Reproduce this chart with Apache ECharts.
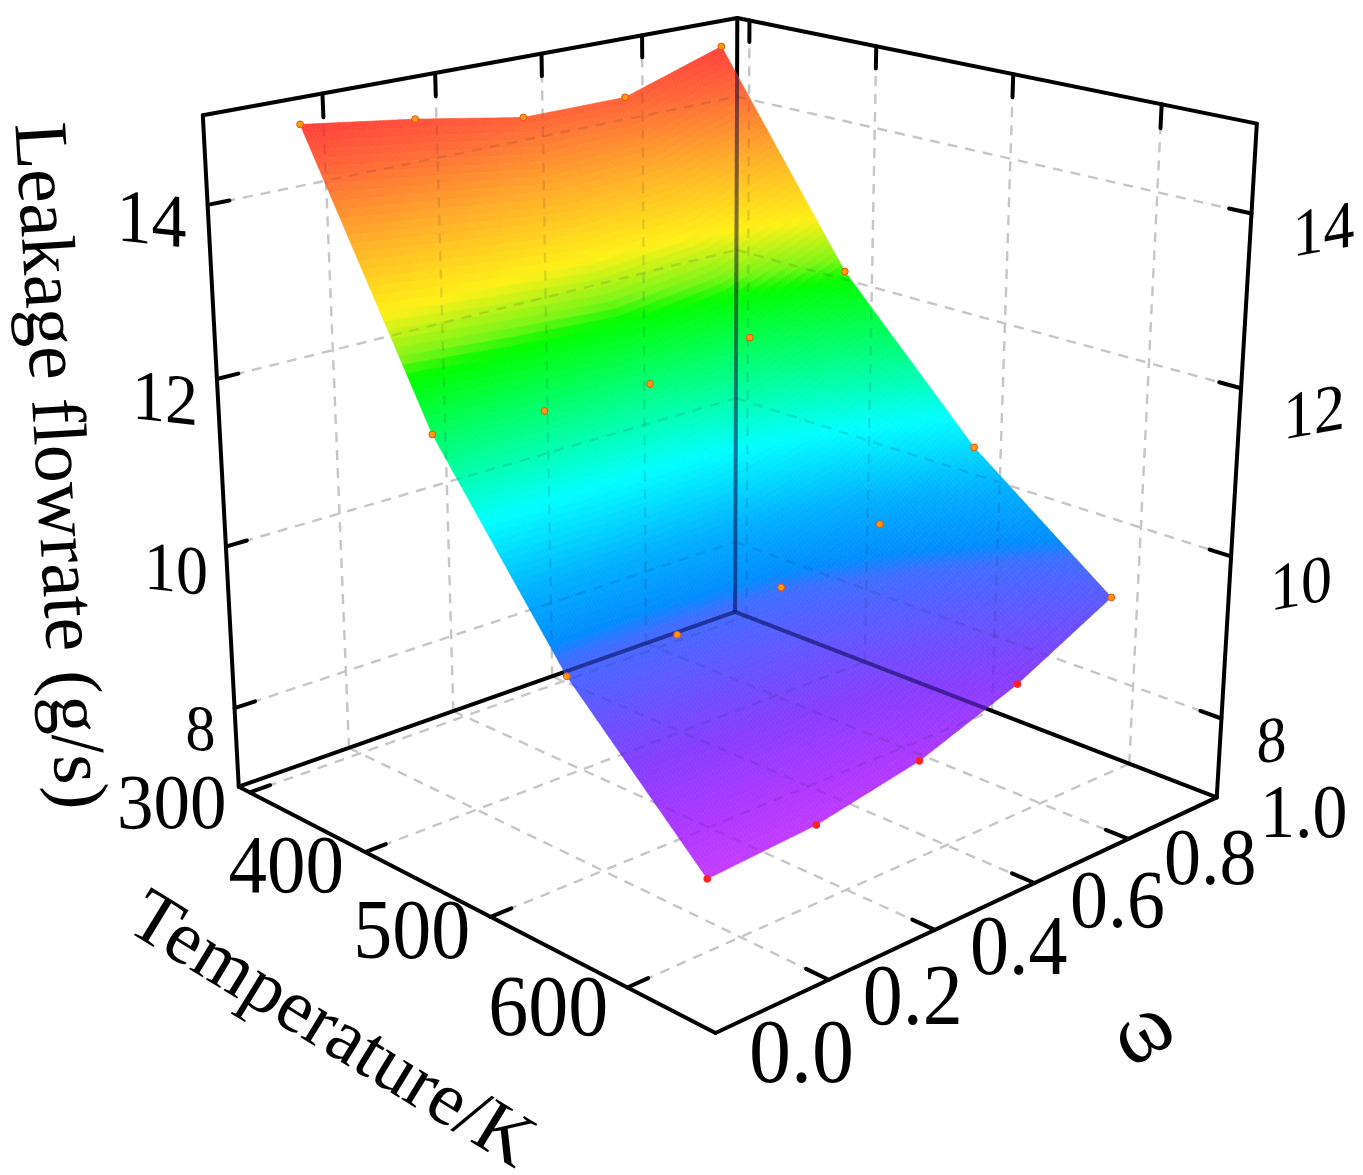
<!DOCTYPE html>
<html><head><meta charset="utf-8"><style>html,body{margin:0;background:#fff}#c{width:1363px;height:1175px}</style>
<script src="https://cdn.jsdelivr.net/npm/echarts@6/dist/echarts.min.js"></script></head><body><div id="c"></div>
<script>
const temperatures=[300,400,500,600];
const omegas=[0.14,0.34,0.54,0.74,0.94];
const flowT300=[14.76,14.57,14.34,14.34,14.74];
const flowT400=[11.67,11.58,11.55,11.78,12.29];
const flowT500=[9.47,9.50,9.63,9.99,10.56];
const flowT600=[7.85,7.94,8.19,8.64,9.26];
const flowRows=[flowT300,flowT400,flowT500,flowT600];
const tempTicks=[300,400,500,600], omegaTicks=[0,0.2,0.4,0.6,0.8,1], flowTicks=[14,12,10,8];
const Tmin=290,Tmax=660,Zmin=7,Zmax=15;
// camera calibration: box corners -> page position
const cam=[[0,0,0,239,787],[1,0,0,715,1033],[1,1,0,1217,797],[0,1,0,735,612],[0,0,1,203,115],[0,1,1,737,18],[1,1,1,1257,124]];
function fit(){const R=[];for(const [u,v,w,X,Y] of cam){R.push([u,v,w,1,0,0,0,0,-X*u,-X*v,-X*w,X]);R.push([0,0,0,0,u,v,w,1,-Y*u,-Y*v,-Y*w,Y]);}
const n=11,A=[];for(let i=0;i<n;i++){A.push(new Array(n+1).fill(0));for(let j=0;j<=n;j++)for(const r of R)A[i][j]+=r[i]*r[j];}
for(let i=0;i<n;i++){let m=i;for(let k=i;k<n;k++)if(Math.abs(A[k][i])>Math.abs(A[m][i]))m=k;[A[i],A[m]]=[A[m],A[i]];for(let k=0;k<n;k++){if(k===i)continue;const f=A[k][i]/A[i][i];for(let j=i;j<=n;j++)A[k][j]-=f*A[i][j];}}
return A.map((r,i)=>r[n]/r[i]);}
const P=fit();
function proj(T,o,z){const u=(T-Tmin)/(Tmax-Tmin),v=o,w=(z-Zmin)/(Zmax-Zmin),d=P[8]*u+P[9]*v+P[10]*w+1;
return [(P[0]*u+P[1]*v+P[2]*w+P[3])/d,(P[4]*u+P[5]*v+P[6]*w+P[7])/d];}
const stops=[[7.8,[200,60,255]],[8.2,[175,55,255]],[8.7,[135,60,255]],[9.45,[75,100,255]],[9.6,[60,110,255]],[9.75,[0,140,255]],[10.2,[0,175,255]],[10.85,[0,255,255]],[11.5,[0,255,128]],[12.2,[0,255,0]],[12.25,[20,250,0]],[12.4,[120,245,20]],[12.85,[255,240,20]],[13.6,[255,170,40]],[14.3,[255,100,55]],[14.8,[255,60,60]]];
function col(z){if(z<=stops[0][0])return 'rgb('+stops[0][1]+')';for(let i=1;i<stops.length;i++)if(z<=stops[i][0]){const t=(z-stops[i-1][0])/(stops[i][0]-stops[i-1][0]);const a=stops[i-1][1],b=stops[i][1];return 'rgb('+a.map((x,k)=>Math.round(x+(b[k]-x)*t))+')';}return 'rgb('+stops[stops.length-1][1]+')';}
const solid=[],dashed=[];
function S(a,b){solid.push([...a,...b]);} function Dd(a,b){dashed.push([...a,...b]);}
S([Tmin,0,Zmin],[Tmax,0,Zmin]);S([Tmax,0,Zmin],[Tmax,1,Zmin]);S([Tmin,0,Zmin],[Tmin,1,Zmin]);S([Tmin,1,Zmin],[Tmax,1,Zmin]);S([Tmin,0,Zmin],[Tmin,0,Zmax]);S([Tmin,1,Zmin],[Tmin,1,Zmax]);S([Tmax,1,Zmin],[Tmax,1,Zmax]);S([Tmin,0,Zmax],[Tmin,1,Zmax]);S([Tmin,1,Zmax],[Tmax,1,Zmax]);
for(const T of tempTicks){Dd([T,0,Zmin],[T,1,Zmin]);Dd([T,1,Zmin],[T,1,Zmax]);S([T,0,Zmin],[T,0.036,Zmin]);S([T,1,Zmax],[T,1,Zmax-0.27]);}
for(const o of omegaTicks){if(o>0&&o<1){Dd([Tmin,o,Zmin],[Tmax,o,Zmin]);Dd([Tmin,o,Zmin],[Tmin,o,Zmax]);S([Tmax,o,Zmin],[Tmax-15,o,Zmin]);S([Tmin,o,Zmax],[Tmin,o,Zmax-0.27]);}}
for(const z of flowTicks){Dd([Tmin,0,z],[Tmin,1,z]);Dd([Tmin,1,z],[Tmax,1,z]);S([Tmin,0,z],[Tmin,0.036,z]);S([Tmax,1,z],[Tmax-14,1,z]);}
const cells=[];for(let i=0;i<temperatures.length-1;i++)for(let j=0;j<omegas.length-1;j++)cells.push([i,j]);
const pts=[];flowRows.forEach((r,i)=>r.forEach((z,j)=>pts.push([temperatures[i],omegas[j],z])));
function outline(api){const o=[],nI=temperatures.length-1,nJ=omegas.length-1;
for(let j=0;j<=nJ;j++)o.push([0,j]);for(let i=1;i<=nI;i++)o.push([i,nJ]);for(let j=nJ-1;j>=0;j--)o.push([nI,j]);for(let i=nI-1;i>0;i--)o.push([i,0]);
return o.map(([i,j])=>api.coord(proj(temperatures[i],omegas[j],flowRows[i][j])));}
function lineItem(style,clip){return (p,api)=>{const v=[0,1,2,3,4,5].map(k=>api.value(k));const a=api.coord(proj(v[0],v[1],v[2])),b=api.coord(proj(v[3],v[4],v[5]));
const el={type:'line',shape:{x1:a[0],y1:a[1],x2:b[0],y2:b[1]},style};if(clip)el.clipPath={type:'polygon',shape:{points:outline(api)}};return el;};}
const N=36;
function surf(p,api){const i=api.value(0),j=api.value(1),ch=[];
const f=(a,b)=>{const T=temperatures[i]+(temperatures[i+1]-temperatures[i])*a,o=omegas[j]+(omegas[j+1]-omegas[j])*b;
const z=(1-a)*(1-b)*flowRows[i][j]+a*(1-b)*flowRows[i+1][j]+(1-a)*b*flowRows[i][j+1]+a*b*flowRows[i+1][j+1];return [T,o,z];};
for(let a=0;a<N;a++)for(let b=0;b<N;b++){const q=[f(a/N,b/N),f((a+1)/N,b/N),f((a+1)/N,(b+1)/N),f(a/N,(b+1)/N)];
const zc=(q[0][2]+q[1][2]+q[2][2]+q[3][2])/4,c=col(zc);
ch.push({type:'polygon',shape:{points:q.map(t=>api.coord(proj(t[0],t[1],t[2])))},style:{fill:c,stroke:c,lineWidth:0.6}});}
return {type:'group',children:ch};}
// label offsets from their tick (layout only): dx, dy, font size
const tempOff=[[-78,15,73],[-79,18,77],[-79,19,78],[-79,25,80]];
const omegaOff=[[86,25,84],[84,22,80],[84,22,78],[83,22,76],[82,24,74],[87,20,70]];
const leftOff=[[-56,19,70],[-52,24,66],[-50,27,64],[-34,25,60]];
const rightOff=[[72,20,62],[73,28,62],[70,31,62],[50,26,60]];
const tempLabels=tempTicks.map((T,i)=>[String(T),T,0,Zmin,tempOff[i][0],tempOff[i][1],tempOff[i][2],0,0]);
const omegaLabels=omegaTicks.map((o,i)=>[o.toFixed(1),Tmax,o,Zmin,omegaOff[i][0],omegaOff[i][1],omegaOff[i][2],0,0]);
const flowLeft=flowTicks.map((z,i)=>[String(z),Tmin,0,z,leftOff[i][0],leftOff[i][1],leftOff[i][2],0,-0.11]);
const flowRight=flowTicks.map((z,i)=>[String(z),Tmax,1,z,rightOff[i][0],rightOff[i][1],rightOff[i][2],0,0.18]);
const tickText=[...tempLabels,...omegaLabels,...flowLeft,...flowRight];
const titles=[['Leakage flowrate (g/s)',56,466,76,-1.51],['Temperature/K',330,1032,76,-0.55],['ω',1143,1034,88,0.55]];
function textEl(api,t,x,y,s,r,sk,sy){const c=api.coord([x,y]);return {type:'text',x:c[0],y:c[1],rotation:r,skewY:sk||0,scaleY:sy||1,style:{text:t,fontFamily:'Liberation Serif',fontSize:s,fill:'#000',align:'center',verticalAlign:'middle'}};}
const chart=echarts.init(document.getElementById('c'));
chart.setOption({animation:false,backgroundColor:'#fff',
grid:{left:0,right:0,top:0,bottom:0},
xAxis:{type:'value',min:0,max:1363,show:false},yAxis:{type:'value',min:0,max:1175,inverse:true,show:false},
series:[
{type:'custom',z:1,data:dashed,silent:true,renderItem:lineItem({stroke:'#c6c6c6',lineWidth:2.4,lineDash:[10,8]})},
{type:'custom',z:2,data:solid,silent:true,renderItem:lineItem({stroke:'#000',lineWidth:4,lineCap:'round'})},
{type:'custom',z:3,data:cells,silent:true,renderItem:surf},
{type:'custom',z:4,data:dashed,silent:true,renderItem:lineItem({stroke:'rgba(40,40,80,0.13)',lineWidth:2.4,lineDash:[10,8]},true)},
{type:'custom',z:5,data:solid,silent:true,renderItem:lineItem({stroke:'rgba(0,0,60,0.5)',lineWidth:4},true)},
{type:'custom',z:6,data:pts,silent:true,renderItem:(p,api)=>{const z=api.value(2),c=api.coord(proj(api.value(0),api.value(1),z));return {type:'circle',shape:{cx:c[0],cy:c[1],r:3.4},style:{fill:z<9?'#ff2020':'#ff9a10',stroke:z<9?'#ff2020':'#e85010',lineWidth:1}};}},
{type:'custom',z:7,data:tickText.map((t,i)=>[i,0]),silent:true,renderItem:(p,api)=>{const t=tickText[p.dataIndex],q=proj(t[1],t[2],t[3]);return textEl(api,t[0],q[0]+t[4],q[1]+t[5],t[6],t[7],t[8],1.08);}},
{type:'custom',z:7,data:titles.map((t,i)=>[i,0]),silent:true,renderItem:(p,api)=>{const t=titles[p.dataIndex];return textEl(api,t[0],t[1],t[2],t[3],t[4]);}}
]});
</script></body></html>
